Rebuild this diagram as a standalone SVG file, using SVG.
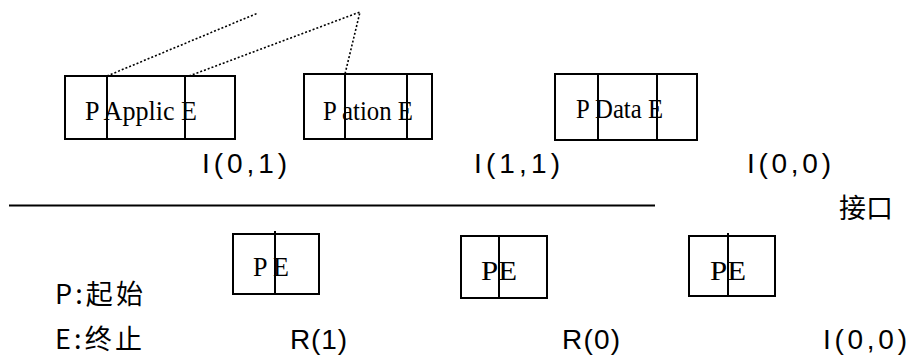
<svg xmlns="http://www.w3.org/2000/svg" width="908" height="356" viewBox="0 0 908 356">
<style>
.box{fill:none;stroke:#000;stroke-width:2}
.div{stroke:#000;stroke-width:2}
.dot{fill:none;stroke:#000;stroke-width:1.6;stroke-dasharray:2 2}
.serif{font-family:"Liberation Serif","Times New Roman",serif;font-size:27px;fill:#000}
.sans{font-family:"Liberation Sans",Arial,"Noto Sans CJK SC",sans-serif;font-size:28px;fill:#000}
.cjk{font-family:"Noto Sans CJK SC","Liberation Sans",sans-serif;font-size:27px;fill:#000}
</style>
<rect width="908" height="356" fill="#fff"/>
<g id="connectors">
<path class="dot" d="M107,76 L258,13"/>
<path class="dot" d="M189,76 L360,12 L345,74"/>
<line x1="9" y1="205.5" x2="655" y2="205.5" stroke="#000" stroke-width="2"/>
</g>
<g id="node-applic">
<rect class="box" x="65" y="76" width="170" height="63"/>
<line class="div" x1="107" y1="76" x2="107" y2="139"/>
<line class="div" x1="185" y1="76" x2="185" y2="139"/>
<text class="serif" x="85" y="120" textLength="112" lengthAdjust="spacingAndGlyphs">P Applic E</text>
</g>
<g id="node-ation">
<rect class="box" x="304" y="74" width="128" height="65"/>
<line class="div" x1="345" y1="74" x2="345" y2="139"/>
<line class="div" x1="407" y1="74" x2="407" y2="139"/>
<text class="serif" x="323" y="120" textLength="90" lengthAdjust="spacingAndGlyphs">P ation E</text>
</g>
<g id="node-data">
<rect class="box" x="555" y="74" width="142" height="66"/>
<line class="div" x1="598" y1="74" x2="598" y2="140"/>
<line class="div" x1="657" y1="74" x2="657" y2="140"/>
<text class="serif" x="576" y="118" textLength="87" lengthAdjust="spacingAndGlyphs">P Data E</text>
</g>
<g id="node-pe1">
<rect class="box" x="233" y="234" width="86" height="60"/>
<line class="div" x1="275" y1="231" x2="275" y2="294"/>
<text class="serif" x="253" y="276" textLength="36" lengthAdjust="spacingAndGlyphs">P E</text>
</g>
<g id="node-pe2">
<rect class="box" x="461" y="236" width="86" height="62"/>
<line class="div" x1="499" y1="236" x2="499" y2="298"/>
<text class="serif" x="481" y="280" textLength="36" lengthAdjust="spacingAndGlyphs">PE</text>
</g>
<g id="node-pe3">
<rect class="box" x="689" y="236" width="86" height="60"/>
<line class="div" x1="728" y1="233" x2="728" y2="296"/>
<text class="serif" x="710" y="280" textLength="36" lengthAdjust="spacingAndGlyphs">PE</text>
</g>
<g id="labels">
<text class="sans" x="202" y="173" textLength="85" lengthAdjust="spacing">I(0,1)</text>
<text class="sans" x="474" y="173" textLength="86" lengthAdjust="spacing">I(1,1)</text>
<text class="sans" x="747" y="173" textLength="84" lengthAdjust="spacing">I(0,0)</text>
<text class="cjk" x="839" y="218" textLength="54" lengthAdjust="spacingAndGlyphs">接口</text>
<text class="cjk" x="55" y="304" textLength="88" lengthAdjust="spacing">P:起始</text>
<text class="cjk" x="55" y="349" textLength="87" lengthAdjust="spacing">E:终止</text>
<text class="sans" x="290" y="349" textLength="57" lengthAdjust="spacing">R(1)</text>
<text class="sans" x="562" y="349" textLength="58" lengthAdjust="spacing">R(0)</text>
<text class="sans" x="823" y="349" textLength="84" lengthAdjust="spacing">I(0,0)</text>
</g>
</svg>
